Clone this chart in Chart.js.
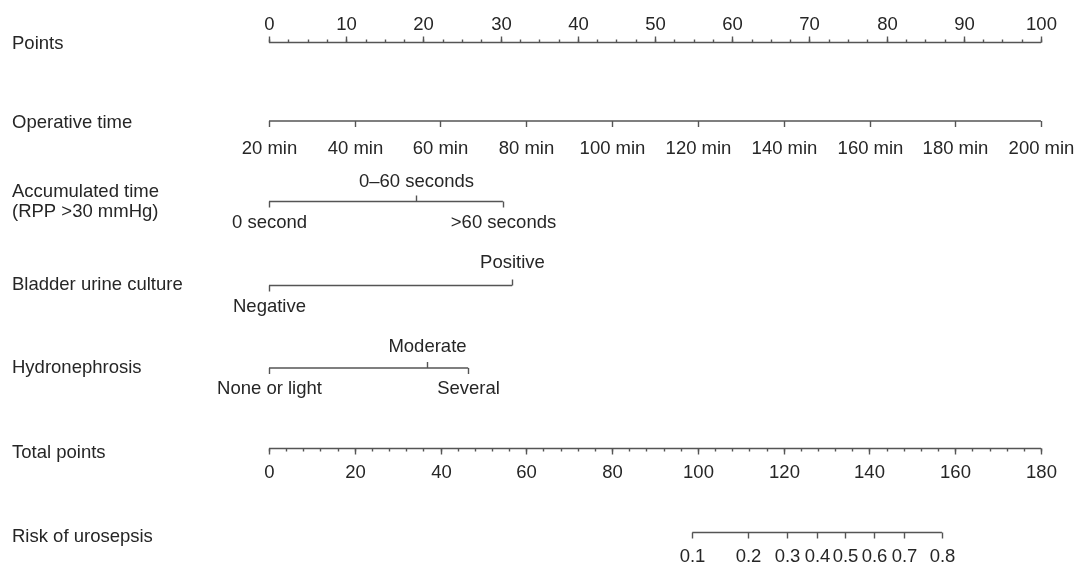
<!DOCTYPE html>
<html>
<head>
<meta charset="utf-8">
<script src="https://cdn.jsdelivr.net/npm/chart.js@4.4.1/dist/chart.umd.min.js"></script>
<style>
  html, body { margin: 0; padding: 0; background: #fff; }
  #wrap { width: 1077px; height: 565px; }
</style>
</head>
<body>
<div id="wrap"><canvas id="nomo" width="1077" height="565"></canvas></div>
<script>
// Nomogram data
const pointTicks = [0, 10, 20, 30, 40, 50, 60, 70, 80, 90, 100];
const pointMinorStep = 2.5;

const opTimeLabels = ['20 min', '40 min', '60 min', '80 min', '100 min', '120 min', '140 min', '160 min', '180 min', '200 min'];
const opTimePoints = [0, 11.1, 22.2, 33.3, 44.4, 55.6, 66.7, 77.8, 88.9, 100];

const accLabels = ['0 second', '0–60 seconds', '>60 seconds'];
const accPoints = [0, 19.0, 30.3];
const accSide = ['below', 'above', 'below'];

const cultureLabels = ['Negative', 'Positive'];
const culturePoints = [0, 31.5];
const cultureSide = ['below', 'above'];

const hydroLabels = ['None or light', 'Moderate', 'Several'];
const hydroPoints = [0, 20.5, 25.8];
const hydroSide = ['below', 'above', 'below'];

const totalTicks = [0, 20, 40, 60, 80, 100, 120, 140, 160, 180];
const totalMinorStep = 4;
const totalMax = 180;

const riskLabels = ['0.1', '0.2', '0.3', '0.4', '0.5', '0.6', '0.7', '0.8'];
const riskTotalPoints = [98.7, 111.8, 120.7, 127.8, 134.4, 141.0, 148.1, 156.9];

// layout (pixel rows, y axis runs 0..565 top-down)
const FONT = '18.5px "Liberation Sans", Arial, Helvetica, sans-serif';
const TEXT = '#262626';
const LINE = '#555555';

// total points -> points scale
const toPts = t => t / totalMax * 100;

// each row: where the line sits and how labels hang off it
const rows = [
  { name: ['Points'], nameY: 49, y: 42.5, above: 13, below: 0,
    ticks: pointTicks.map(v => ({ x: v, label: String(v), side: 'above' })),
    minor: { step: pointMinorStep, max: 100, side: 'above' } },
  { name: ['Operative time'], nameY: 128, y: 121, below: 33,
    ticks: opTimePoints.map((v, i) => ({ x: v, label: opTimeLabels[i], side: 'below' })) },
  { name: ['Accumulated time', '(RPP >30 mmHg)'], nameY: 197, y: 201.5, above: 14.5, below: 26.5,
    ticks: accPoints.map((v, i) => ({ x: v, label: accLabels[i], side: accSide[i] })) },
  { name: ['Bladder urine culture'], nameY: 290, y: 285.5, above: 17.5, below: 26.5,
    ticks: culturePoints.map((v, i) => ({ x: v, label: cultureLabels[i], side: cultureSide[i] })) },
  { name: ['Hydronephrosis'], nameY: 373, y: 368, above: 16, below: 25.5,
    ticks: hydroPoints.map((v, i) => ({ x: v, label: hydroLabels[i], side: hydroSide[i] })) },
  { name: ['Total points'], nameY: 458, y: 448.5, below: 29,
    ticks: totalTicks.map(v => ({ x: toPts(v), label: String(v), side: 'below' })),
    minor: { step: toPts(totalMinorStep), max: 100, side: 'below' } },
  { name: ['Risk of urosepsis'], nameY: 542, y: 532.5, below: 29,
    ticks: riskTotalPoints.map((v, i) => ({ x: toPts(v), label: riskLabels[i], side: 'below' })) }
];

// one dataset per horizontal rule, spanning that row's ticks
const datasets = rows.map(r => {
  const xs = r.ticks.map(t => t.x);
  return {
    data: [{ x: Math.min(...xs), y: r.y }, { x: Math.max(...xs), y: r.y }],
    showLine: true,
    borderColor: LINE,
    borderWidth: 1.4,
    pointRadius: 0
  };
});

const nomogramPlugin = {
  id: 'nomogram',
  afterDatasetsDraw(chart) {
    const ctx = chart.ctx;
    const xs = chart.scales.x, ys = chart.scales.y;
    ctx.save();
    ctx.font = FONT;
    ctx.fillStyle = TEXT;
    ctx.strokeStyle = LINE;
    ctx.lineWidth = 1.4;

    rows.forEach(r => {
      const y = ys.getPixelForValue(r.y);

      // row name at the left
      ctx.textAlign = 'left';
      ctx.textBaseline = 'alphabetic';
      r.name.forEach((n, i) => ctx.fillText(n, 12, ys.getPixelForValue(r.nameY + i * 20)));

      // minor ticks
      if (r.minor) {
        for (let v = 0; v <= r.minor.max + 1e-6; v += r.minor.step) {
          const px = Math.round(xs.getPixelForValue(v)) + 0.5;
          const dy = r.minor.side === 'above' ? -3 : 3;
          ctx.beginPath();
          ctx.moveTo(px, y);
          ctx.lineTo(px, y + dy);
          ctx.stroke();
        }
      }

      // major ticks + labels
      r.ticks.forEach(t => {
        const px = Math.round(xs.getPixelForValue(t.x)) + 0.5;
        const up = t.side === 'above';
        ctx.beginPath();
        ctx.moveTo(px, y);
        ctx.lineTo(px, y + (up ? -6 : 6));
        ctx.stroke();
        ctx.textAlign = 'center';
        ctx.fillText(t.label, px, up ? y - r.above : y + r.below);
      });
    });
    ctx.restore();
  }
};

new Chart(document.getElementById('nomo').getContext('2d'), {
  type: 'scatter',
  data: { datasets: datasets },
  options: {
    responsive: false,
    animation: false,
    layout: { padding: { left: 269, right: 36, top: 0, bottom: 0 } },
    scales: {
      x: { type: 'linear', min: 0, max: 100, display: false },
      y: { type: 'linear', min: 0, max: 565, reverse: true, display: false }
    },
    plugins: { legend: { display: false }, tooltip: { enabled: false } }
  },
  plugins: [nomogramPlugin]
});
</script>
</body>
</html>
